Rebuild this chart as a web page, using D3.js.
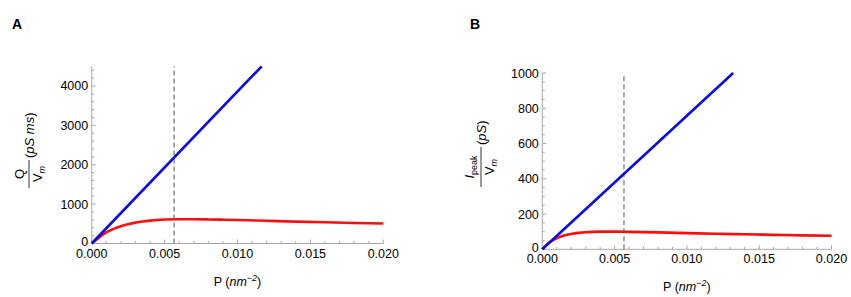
<!DOCTYPE html>
<html>
<head>
<meta charset="utf-8">
<script src="https://cdn.jsdelivr.net/npm/d3@7"></script>
<style>
  body { margin: 0; background: #fff; }
  svg { display: block; font-family: "Liberation Sans", Arial, sans-serif; }
</style>
</head>
<body>
<svg id="chart" width="851" height="297"></svg>
<script>
// pressure values (nm^-2) and curves
const blueA = [[0, 0], [0.01166, 4500]];
const redA = [
  [0, 0], [0.0005, 150], [0.001, 280], [0.0015, 370], [0.002, 440], [0.0025, 490],
  [0.003, 530], [0.0035, 560], [0.004, 582], [0.0045, 598], [0.005, 608], [0.006, 614],
  [0.007, 615], [0.008, 611], [0.009, 604], [0.010, 596], [0.012, 576], [0.014, 556],
  [0.016, 538], [0.018, 522], [0.020, 508]
];
const blueB = [[0, 0], [0.0132, 1000]];
const redB = [
  [0, 0], [0.0005, 40], [0.001, 63], [0.0015, 78], [0.002, 87], [0.0025, 93],
  [0.003, 97], [0.0035, 99], [0.004, 100], [0.005, 100], [0.006, 99], [0.008, 96],
  [0.010, 92], [0.012, 88], [0.014, 85], [0.016, 82], [0.018, 79], [0.020, 77]
];
const markerP = 0.00565;
const xTicks = [0, 0.005, 0.010, 0.015, 0.020];
const yTicksA = [0, 1000, 2000, 3000, 4000];
const yTicksB = [0, 200, 400, 600, 800, 1000];

const svg = d3.select("#chart");
const AXIS_COL = "#a8a8a8";

const draw_panel = function (cfg) {
  const x = d3.scaleLinear().domain([0, 0.02]).range([cfg.left, cfg.right]);
  const y = d3.scaleLinear().domain([0, cfg.ymax]).range([cfg.bottom, cfg.top]);
  const g = svg.append("g");

  // panel letter
  g.append("text").attr("x", cfg.letterX).attr("y", 28.5)
    .attr("font-size", 14).attr("font-weight", "bold").text(cfg.letter);

  // ticks, major ones a bit longer
  const isMajor = (d, step) => Math.abs(d / step - Math.round(d / step)) < 1e-6;
  const xMinor = d3.range(0, 0.0201, 0.001);
  g.selectAll(".xminor").data(xMinor).join("line")
    .attr("x1", d => x(d)).attr("x2", d => x(d))
    .attr("y1", y(0)).attr("y2", d => y(0) - (isMajor(d, 0.005) ? 4 : 2.5))
    .attr("stroke", AXIS_COL).attr("stroke-width", 1);
  const yMinor = d3.range(0, cfg.ymax + 1e-9, cfg.yminor);
  g.selectAll(".yminor").data(yMinor).join("line")
    .attr("y1", d => y(d)).attr("y2", d => y(d))
    .attr("x1", x(0)).attr("x2", d => x(0) + (isMajor(d, cfg.ymajor) ? 4 : 2.5))
    .attr("stroke", AXIS_COL).attr("stroke-width", 1);

  // axes lines
  g.append("line").attr("x1", x(0)).attr("x2", x(0.02)).attr("y1", y(0)).attr("y2", y(0))
    .attr("stroke", AXIS_COL);
  g.append("line").attr("x1", x(0)).attr("x2", x(0)).attr("y1", y(0)).attr("y2", y(cfg.ymax))
    .attr("stroke", AXIS_COL);

  // tick labels
  g.selectAll(".xlab").data(xTicks).join("text")
    .attr("x", d => x(d)).attr("y", y(0) + 14)
    .attr("text-anchor", "middle").attr("font-size", 12.5)
    .text(d => d3.format(".3f")(d));
  g.selectAll(".ylab").data(cfg.yTicks).join("text")
    .attr("x", x(0) - 3.5).attr("y", d => y(d) + (d === 0 ? 2.5 : 4.5))
    .attr("text-anchor", "end").attr("font-size", 12.5)
    .text(d => d);

  // dashed marker
  g.append("line").attr("x1", x(markerP)).attr("x2", x(markerP))
    .attr("y1", y(0)).attr("y2", y(cfg.ymax))
    .attr("stroke", "#444").attr("stroke-width", 0.9).attr("stroke-dasharray", "5,3");

  const line = d3.line().x(d => x(d[0])).y(d => y(d[1])).curve(d3.curveMonotoneX);
  g.append("path").datum(cfg.red).attr("d", line)
    .attr("fill", "none").attr("stroke", "#ff0d0d").attr("stroke-width", 2.6);
  g.append("path").datum(cfg.blue).attr("d", line)
    .attr("fill", "none").attr("stroke", "#0a0ae6").attr("stroke-width", 2.6);

  // x title
  const xt = g.append("text").attr("x", (cfg.left + cfg.right) / 2).attr("y", y(0) + 42)
    .attr("text-anchor", "middle").attr("font-size", 12.5);
  xt.append("tspan").text("P (");
  xt.append("tspan").attr("font-style", "italic").text("nm");
  xt.append("tspan").attr("font-style", "italic").attr("font-size", 9).attr("dy", -5).text("\u22122");
  xt.append("tspan").attr("dy", 5).text(")");

  // y title: rotated fraction
  const yt = g.append("g").attr("transform", `translate(${cfg.fracX},${cfg.fracY}) rotate(-90)`);
  yt.append("line").attr("x1", -cfg.fracLen / 2).attr("x2", cfg.fracLen / 2)
    .attr("y1", 0).attr("y2", 0).attr("stroke", "#000").attr("stroke-width", 0.8);
  const num = yt.append("text").attr("x", 0).attr("y", cfg.numY).attr("text-anchor", "middle").attr("font-size", 13);
  cfg.numerator(num);
  const den = yt.append("text").attr("x", 0).attr("y", 13).attr("text-anchor", "middle").attr("font-size", 13);
  den.append("tspan").text("V");
  den.append("tspan").attr("font-style", "italic").attr("font-size", 9).attr("dy", 3).text("m");
  const unit = yt.append("text").attr("x", cfg.fracLen / 2 + 2).attr("y", 4.5).attr("font-size", 13);
  unit.append("tspan").text("(");
  unit.append("tspan").attr("font-style", "italic").text(cfg.unit);
  unit.append("tspan").text(")");
};

draw_panel({
  letter: "A", letterX: 12,
  left: 91.7, right: 383.3, top: 66.3, bottom: 243.5,
  ymax: 4500, ymajor: 1000, yminor: 200, yTicks: yTicksA,
  blue: blueA, red: redA,
  fracX: 29, fracY: 174, fracLen: 28, numY: -5, unit: "pS ms",
  numerator: t => t.text("Q")
});

draw_panel({
  letter: "B", letterX: 470,
  left: 542.3, right: 831.5, top: 73, bottom: 249.3,
  ymax: 1000, ymajor: 200, yminor: 50, yTicks: yTicksB,
  blue: blueB, red: redB,
  fracX: 481, fracY: 167, fracLen: 40, numY: -7, unit: "pS",
  numerator: t => {
    t.append("tspan").attr("font-style", "italic").text("I");
    t.append("tspan").attr("font-size", 9).attr("dy", 3).text("peak");
  }
});
</script>
</body>
</html>
